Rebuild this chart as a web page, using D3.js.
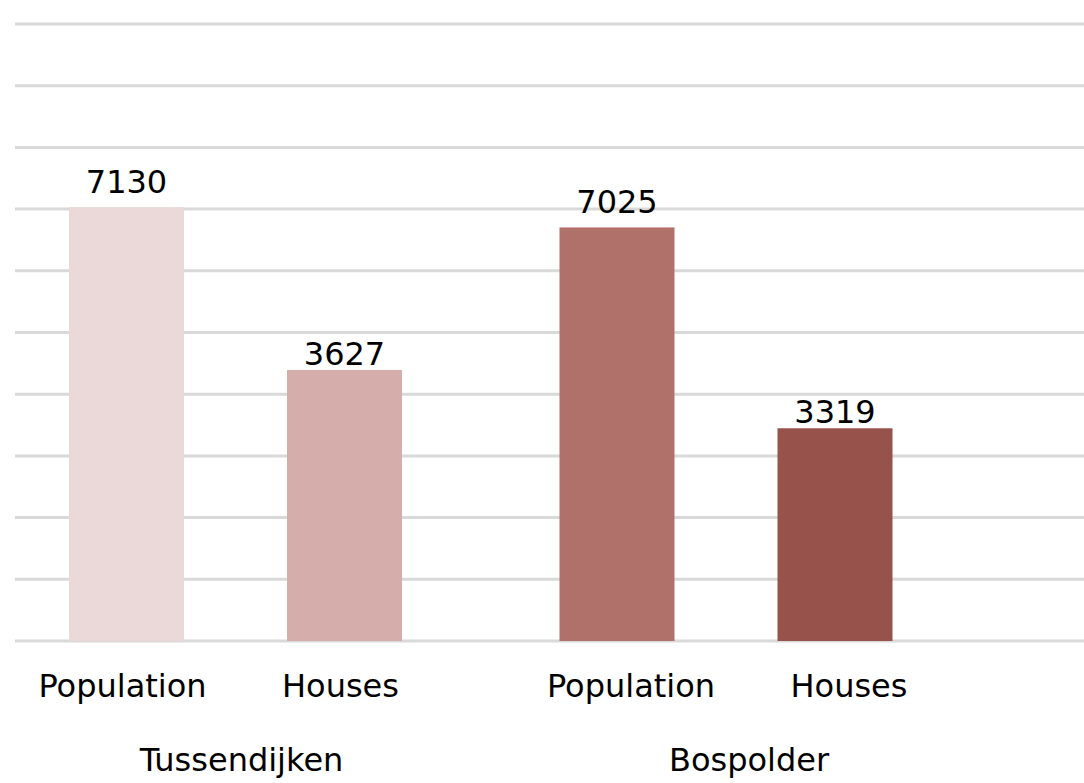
<!DOCTYPE html>
<html>
<head>
<meta charset="utf-8">
<script src="https://cdn.jsdelivr.net/npm/d3@7"></script>
<style>
  html, body { margin: 0; padding: 0; background: #fff; }
  svg { display: block; }
  text { font-family: "DejaVu Sans", Verdana, sans-serif; fill: #000; }
</style>
</head>
<body>
<svg id="chart" width="1084" height="783"></svg>
<script>
// Neighbourhood figures
const groups = ["Tussendijken", "Bospolder"];
const measures = ["Population", "Houses"];
const populationValues = [7130, 7025];
const houseValues = [3627, 3319];
const barColors = ["#ebd9d9", "#d5aeab", "#b0716b", "#96524b"];

const W = 1084;
const plotTop = 24, plotBottom = 641, plotLeft = 15;
const barWidth = 115;
const fontSize = 32;
// horizontal nudges of the category texts, per neighbourhood
const measureLabelShift = [-4, 14];
const groupLabelShift = [6, 23];

// each measure uses its own value axis (primary = population, secondary = houses)
const yPop = d3.scaleLinear().domain([4880, 8080]).range([plotBottom, plotTop]);
const yHouses = d3.scaleLinear().domain([2195, 5455]).range([plotBottom, plotTop]);

// horizontal slot positions of the four bars, with a wider gap between neighbourhoods
const slotOf = (g, m) => g * 2.25 + m;
const x = d3.scaleLinear().domain([0, 1]).range([126.5, 344.5]);

const rows = [];
groups.forEach((g, gi) => {
  measures.forEach((m, mi) => {
    const value = mi === 0 ? populationValues[gi] : houseValues[gi];
    rows.push({
      group: g, gi, measure: m, value,
      slot: slotOf(gi, mi),
      y: mi === 0 ? yPop : yHouses,
      color: barColors[gi * 2 + mi],
      labelGap: mi === 0 ? 14 : 5
    });
  });
});

const svg = d3.select("#chart");

// gridlines, 10 equal divisions of the value axis
const gridVals = d3.range(11).map(i => 4880 + i * 320);
svg.append("g")
  .selectAll("line")
  .data(gridVals)
  .join("line")
  .attr("x1", plotLeft).attr("x2", W)
  .attr("y1", d => yPop(d)).attr("y2", d => yPop(d))
  .attr("stroke", "#d9d9d9")
  .attr("stroke-width", 3);

// bars
svg.append("g")
  .selectAll("rect")
  .data(rows)
  .join("rect")
  .attr("x", d => x(d.slot) - barWidth / 2)
  .attr("width", barWidth)
  .attr("y", d => d.y(d.value))
  .attr("height", d => plotBottom - d.y(d.value))
  .attr("fill", d => d.color);

// value labels
svg.append("g")
  .selectAll("text")
  .data(rows)
  .join("text")
  .attr("x", d => x(d.slot))
  .attr("y", d => d.y(d.value) - d.labelGap)
  .attr("text-anchor", "middle")
  .attr("font-size", fontSize)
  .text(d => d.value);

// measure labels
svg.append("g")
  .selectAll("text")
  .data(rows)
  .join("text")
  .attr("x", d => x(d.slot) + measureLabelShift[d.gi])
  .attr("y", 697)
  .attr("text-anchor", "middle")
  .attr("font-size", fontSize)
  .text(d => d.measure);

// neighbourhood labels
svg.append("g")
  .selectAll("text")
  .data(groups)
  .join("text")
  .attr("x", (d, i) => x(slotOf(i, 0.5)) + groupLabelShift[i])
  .attr("y", 771)
  .attr("text-anchor", "middle")
  .attr("font-size", fontSize)
  .text(d => d);
</script>
</body>
</html>
